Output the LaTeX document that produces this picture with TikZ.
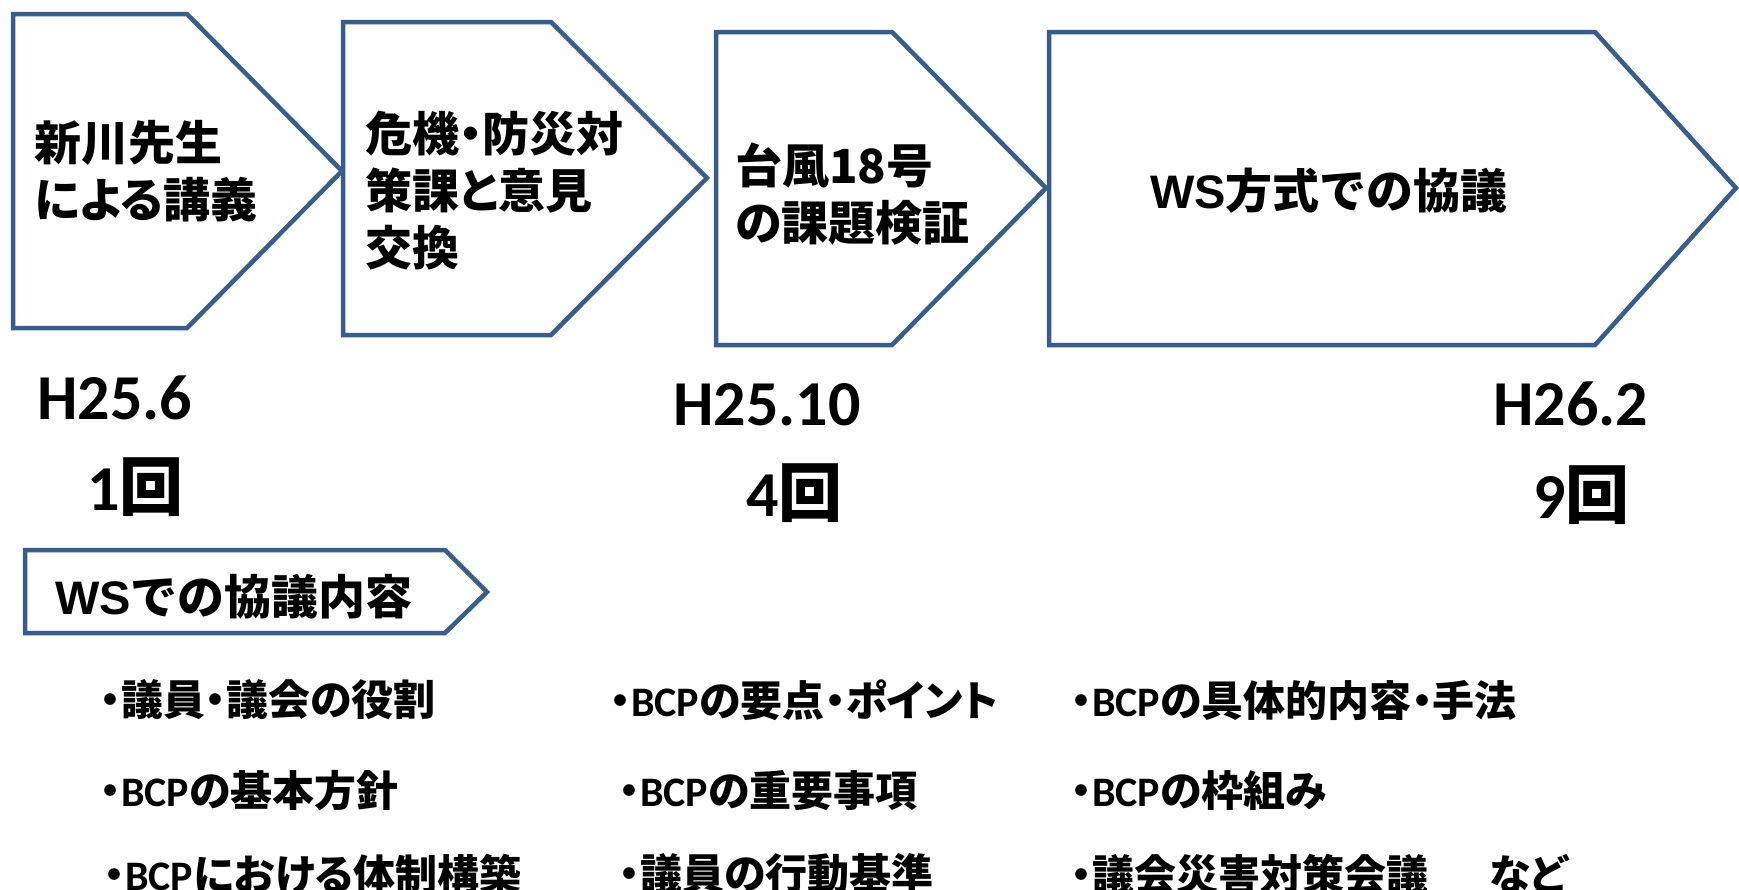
\documentclass[tikz,border=0pt]{standalone}
\usepackage{fontspec}
\newfontfamily\jpf{Noto Sans CJK JP}[RawFeature=+palt]
\newfontfamily\jpm{Noto Sans CJK JP}
\newfontfamily\latf{Carlito}
\newfontfamily\latb{Carlito}[Scale=1.0]
\newfontfamily\arf{Liberation Sans}
\definecolor{bdr}{RGB}{56,93,138}
\newcommand\bcp{{\latb\bfseries BCP}}
\tikzset{
  box/.style={draw=bdr, line width=4.5pt, fill=white},
  boxtxt/.style={anchor=west, inner sep=0pt, align=left, font=\jpf\bfseries\fontsize{47}{57}\selectfont},
  boxtxtm/.style={anchor=west, inner sep=0pt, font=\jpm\bfseries\fontsize{47}{57}\selectfont},
  datetxt/.style={anchor=base west, inner sep=0pt, font=\latf\bfseries\fontsize{64}{64}\selectfont},
  bul/.style={anchor=west, inner sep=0pt, font=\jpf\bfseries\fontsize{42}{50}\selectfont}
}
\begin{document}
\begin{tikzpicture}[x=1pt,y=-1pt]
\useasboundingbox (0,0) rectangle (1739,889);
% chevrons
\draw[box] (13,14) -- (187,14) -- (342,171) -- (187,328) -- (13,328) -- cycle;
\draw[box] (343,22) -- (551,22) -- (707,178) -- (551,335) -- (343,335) -- cycle;
\draw[box] (716,32) -- (892,32) -- (1046,188) -- (892,345) -- (716,345) -- cycle;
\draw[box] (1049,32) -- (1595,32) -- (1736,188) -- (1595,345) -- (1049,345) -- cycle;
\draw[box] (25,550) -- (445,550) -- (487,592) -- (445,633) -- (25,633) -- cycle;
% chevron texts
\node[boxtxt] (t1) at (34,171.5) {新川先生\\による講義};
\node[boxtxt] (t2) at (365,190.5) {危機・防災対\\策課と意見\\交換};
\node[boxtxt] (t3) at (735,194.5) {台風18号\\の課題検証};
\node[boxtxtm] (t4) at (1150,191) {{\arf\bfseries WS}方式での協議};
\node[boxtxtm] (ws) at (55,597) {{\arf\bfseries WS}での協議内容};
% dates
\node[datetxt] (d1) at (37,419) {H25.6};
\node[datetxt] (c1) at (87,510) {1{\jpf 回}};
\node[datetxt] (d2) at (673,425) {H25.10};
\node[datetxt] (c2) at (746,516) {4{\jpf 回}};
\node[datetxt] (d3) at (1493,425) {H26.2};
\node[datetxt] (c3) at (1533,518) {9{\jpf 回}};
% bullets
\node[bul] (b11) at (100,700) {・議員・議会の役割};
\node[bul] (b21) at (100,791) {・\bcp の基本方針};
\node[bul] (b31) at (104,874) {・\bcp における体制構築};
\node[bul] (b12) at (610,700) {・\bcp の要点・ポイント};
\node[bul] (b22) at (619,791) {・\bcp の重要事項};
\node[bul] (b32) at (619,874) {・議員の行動基準};
\node[bul] (b13) at (1071,700) {・\bcp の具体的内容・手法};
\node[bul] (b23) at (1071,791) {・\bcp の枠組み};
\node[bul] (b33) at (1071,874) {・議会災害対策会議};
\node[bul] (nado) at (1489,874) {など};
\end{tikzpicture}
\end{document}
